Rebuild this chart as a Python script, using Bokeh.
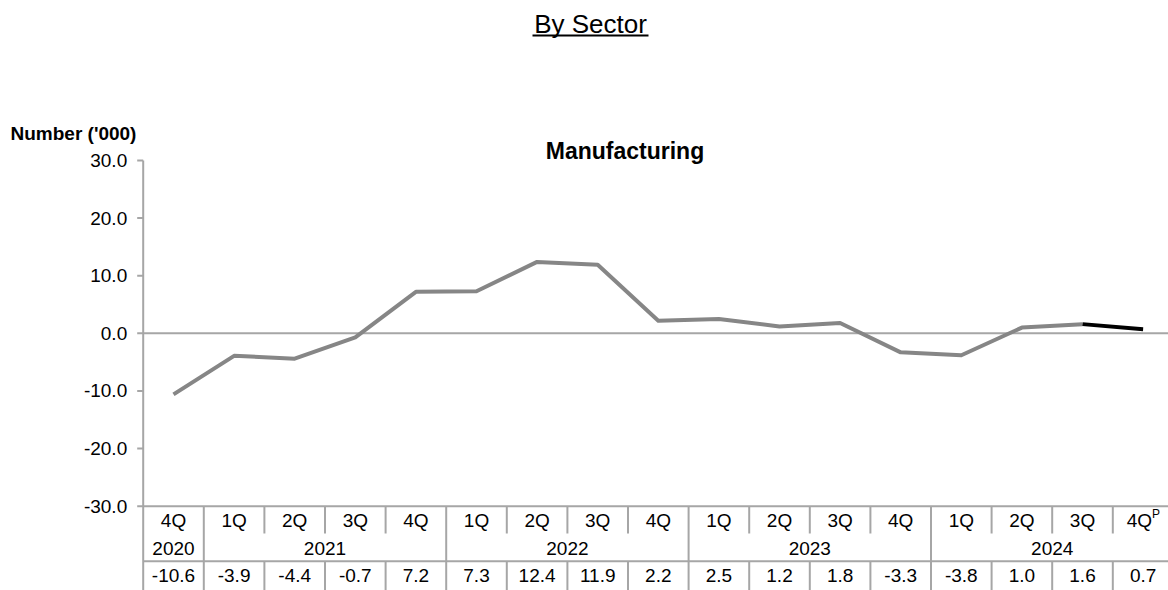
from bokeh.plotting import figure
from bokeh.models import Range1d
from bokeh.core.properties import value
from bokeh.embed import file_html
from bokeh.resources import INLINE

# ---------------- data ----------------
quarters = ["4Q", "1Q", "2Q", "3Q", "4Q", "1Q", "2Q", "3Q", "4Q",
            "1Q", "2Q", "3Q", "4Q", "1Q", "2Q", "3Q", "4Q"]
years = ["2020", "2021", "2022", "2023", "2024"]
year_spans = [1, 4, 4, 4, 4]
values = [-10.6, -3.9, -4.4, -0.7, 7.2, 7.3, 12.4, 11.9, 2.2,
          2.5, 1.2, 1.8, -3.3, -3.8, 1.0, 1.6, 0.7]
value_labels = ["-10.6", "-3.9", "-4.4", "-0.7", "7.2", "7.3", "12.4", "11.9", "2.2",
                "2.5", "1.2", "1.8", "-3.3", "-3.8", "1.0", "1.6", "0.7"]
provisional_mark = "P"
y_ticks = [-30, -20, -10, 0, 10, 20, 30]
y_tick_labels = ["-30.0", "-20.0", "-10.0", "0.0", "10.0", "20.0", "30.0"]
title_text = "By Sector"
chart_title = "Manufacturing"
y_label = "Number ('000)"

FONT = "Liberation Sans"
GRID = "#a6a6a6"
LINE_GREY = "#868686"

# ---------------- layout ----------------
W, H = 1168, 590
AXIS_PX = 142.7                 # page x of the value axis
COL = 60.6                      # px per category
YPX = 345.7 / 60.0              # px per unit value
n = len(values)
x_start = -0.5 - AXIS_PX / COL
x_end = x_start + W / COL
y_top = 30 + 160 / YPX
y_bot = y_top - H / YPX


def dx(px):
    return x_start + px / COL


def dy(py):
    return y_top - py / YPX


p = figure(width=W, height=H, output_backend="svg", toolbar_location=None,
           x_range=Range1d(x_start, x_end), y_range=Range1d(y_bot, y_top),
           x_axis_location=None, y_axis_location=None,
           min_border_left=0, min_border_right=0, min_border_top=0, min_border_bottom=0)
p.outline_line_color = None
p.xgrid.visible = False
p.ygrid.visible = False
p.background_fill_color = "white"
p.border_fill_color = "white"

txt = dict(text_font=value(FONT), text_color="black")

# ---------------- value axis ----------------
p.segment(x0=[-0.5], y0=[y_bot], x1=[-0.5], y1=[max(y_ticks)], line_color=GRID, line_width=2)
p.segment(x0=[dx(136.7)] * len(y_ticks), y0=y_ticks, x1=[-0.5] * len(y_ticks), y1=y_ticks,
          line_color=GRID, line_width=2)
p.text(x=[dx(126.7)] * len(y_ticks), y=y_ticks, text=y_tick_labels, text_align="right",
       text_baseline="middle", text_font_size="19px", **txt)

# zero line
p.segment(x0=[-0.5], y0=[0], x1=[x_end], y1=[0], line_color=GRID, line_width=2)

# ---------------- series line ----------------
xs = list(range(n))
p.line(xs[:-1], values[:-1], line_color=LINE_GREY, line_width=4, line_join="round")
p.line(xs[-2:], values[-2:], line_color="black", line_width=4, line_join="round")

# ---------------- table ----------------
row_q = dy(520)
row_y = dy(548)
row_v = dy(575)
q_sep_end = dy(533)
row_sep = dy(560.7)

p.segment(x0=[-0.5, -0.5], y0=[-30, row_sep], x1=[x_end, x_end], y1=[-30, row_sep],
          line_color=GRID, line_width=2)

year_bounds = set()
acc = 0
for s in year_spans:
    acc += s
    year_bounds.add(acc)
x0s, y0s, x1s, y1s = [], [], [], []
for i in range(1, n + 1):
    xb = i - 0.5
    if i in year_bounds:
        x0s.append(xb); y0s.append(-30); x1s.append(xb); y1s.append(y_bot)
    else:
        x0s += [xb, xb]; y0s += [-30, row_sep]; x1s += [xb, xb]; y1s += [q_sep_end, y_bot]
p.segment(x0=x0s, y0=y0s, x1=x1s, y1=y1s, line_color=GRID, line_width=2)

p.text(x=xs[:-1], y=[row_q] * (n - 1), text=quarters[:-1], text_align="center",
       text_baseline="middle", text_font_size="19px", **txt)
p.text(x=[xs[-1]], y=[row_q], text=[quarters[-1]], x_offset=[9], text_align="right",
       text_baseline="middle", text_font_size="19px", **txt)
p.text(x=[xs[-1]], y=[row_q], text=[provisional_mark], x_offset=[9], y_offset=[-7],
       text_align="left", text_baseline="middle", text_font_size="12px", **txt)

yc = []
acc = 0
for s in year_spans:
    yc.append(acc + (s - 1) / 2)
    acc += s
p.text(x=yc, y=[row_y] * len(years), text=years, text_align="center",
       text_baseline="middle", text_font_size="19px", **txt)

p.text(x=xs, y=[row_v] * n, text=value_labels, text_align="center",
       text_baseline="middle", text_font_size="19px", **txt)

# ---------------- titles ----------------
p.text(x=[dx(590)], y=[dy(23)], text=[title_text], text_align="center",
       text_baseline="middle", text_font_size="26px", **txt)
p.segment(x0=[dx(532)], y0=[dy(35)], x1=[dx(648)], y1=[dy(35)], line_color="black", line_width=2)
p.text(x=[dx(624.5)], y=[dy(150)], text=[chart_title], text_align="center",
       text_baseline="middle", text_font_size="23px", text_font_style="bold", **txt)
p.text(x=[dx(10)], y=[dy(132.7)], text=[y_label], text_align="left",
       text_baseline="middle", text_font_size="19px", text_font_style="bold", **txt)

open("out.html", "w").write(file_html(p, INLINE))
